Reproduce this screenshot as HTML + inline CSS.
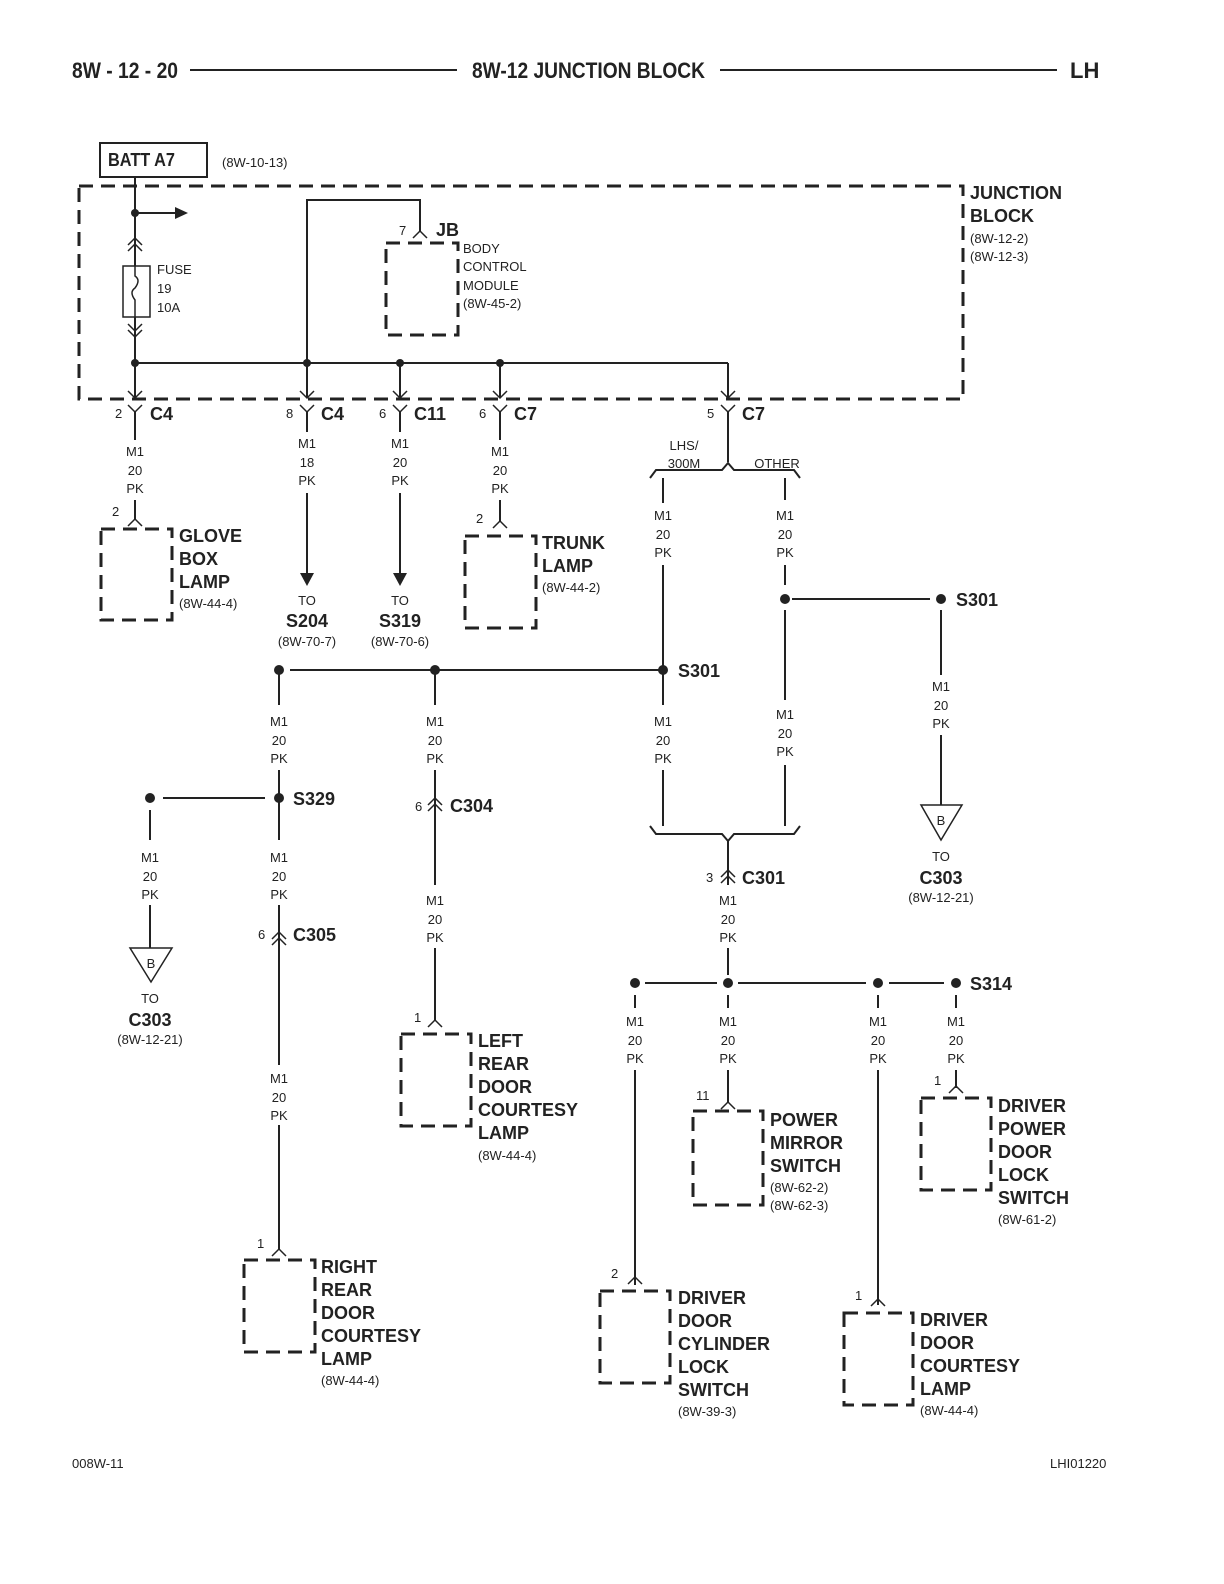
<!DOCTYPE html>
<html><head><meta charset="utf-8"><style>
html,body{margin:0;padding:0;background:#fff;overflow:hidden;width:1224px;height:1584px}
svg{display:block}
text{font-family:"Liberation Sans",sans-serif;fill:#222}
.s{font-size:13px}
.b{font-size:18px;font-weight:bold}
.h{font-size:22px;font-weight:bold}
.w{stroke:#222;stroke-width:2;fill:none}
.d{stroke:#222;stroke-width:3;fill:none;stroke-dasharray:14,8}
.c{stroke:#222;stroke-width:1.5;fill:none}
</style></head><body>
<svg width="1224" height="1584" viewBox="0 0 1224 1584" xmlns="http://www.w3.org/2000/svg">
<text x="72" y="78" class="h" textLength="106" lengthAdjust="spacingAndGlyphs">8W - 12 - 20</text>
<line x1="190" y1="70" x2="457" y2="70" class="w"/>
<text x="472" y="78" class="h" textLength="233" lengthAdjust="spacingAndGlyphs">8W-12 JUNCTION BLOCK</text>
<line x1="720" y1="70" x2="1057" y2="70" class="w"/>
<text x="1070" y="78" class="h">LH</text>

<rect x="100" y="143" width="107" height="34" fill="none" stroke="#222" stroke-width="2"/>
<text x="108" y="166" class="b" textLength="67" lengthAdjust="spacingAndGlyphs">BATT A7</text>
<text x="222" y="167" class="s">(8W-10-13)</text>

<rect x="79" y="186" width="884" height="213" class="d"/>
<text x="970" y="199" class="b">JUNCTION</text><text x="970" y="222" class="b">BLOCK</text>
<text x="970" y="243" class="s">(8W-12-2)</text><text x="970" y="261" class="s">(8W-12-3)</text>

<line x1="135" y1="177" x2="135" y2="398" class="w"/>
<circle cx="135" cy="213" r="4" fill="#222"/>
<line x1="135" y1="213" x2="175" y2="213" class="w"/>
<polygon points="175,207 188,213 175,219" fill="#222"/>
<polyline points="128,245 135,238 142,245" class="c"/><polyline points="128,251 135,244 142,251" class="c"/>
<rect x="123" y="266" width="27" height="51" fill="#fff" stroke="#222" stroke-width="1.5"/>
<path d="M135 266 v10 q6 4 0 12 q-6 4 0 12 v17" class="c"/>
<polyline points="128,324 135,331 142,324" class="c"/><polyline points="128,330 135,337 142,330" class="c"/>
<text x="157" y="274" class="s">FUSE</text><text x="157" y="293" class="s">19</text><text x="157" y="312" class="s">10A</text>
<line x1="135" y1="363" x2="728" y2="363" class="w"/>
<circle cx="135" cy="363" r="4" fill="#222"/><circle cx="307" cy="363" r="4" fill="#222"/><circle cx="400" cy="363" r="4" fill="#222"/><circle cx="500" cy="363" r="4" fill="#222"/>
<polyline points="307,363 307,200 420,200 420,232" class="w"/>
<polyline points="413,238 420,231 427,238" class="c"/>
<rect x="386" y="243" width="72" height="92" class="d"/>
<text x="399" y="235" class="s">7</text><text x="436" y="236" class="b">JB</text>
<text x="463" y="253" class="s">BODY</text><text x="463" y="271" class="s">CONTROL</text><text x="463" y="290" class="s">MODULE</text><text x="463" y="308" class="s">(8W-45-2)</text>
<line x1="307" y1="363" x2="307" y2="398" class="w"/><line x1="400" y1="363" x2="400" y2="398" class="w"/><line x1="500" y1="363" x2="500" y2="398" class="w"/><line x1="728" y1="363" x2="728" y2="398" class="w"/>
<g class="c">
<polyline points="128,391 135,398 142,391"/><polyline points="300,391 307,398 314,391"/><polyline points="393,391 400,398 407,391"/><polyline points="493,391 500,398 507,391"/><polyline points="721,391 728,398 735,391"/>
<polyline points="128,405 135,412 142,405"/><polyline points="300,405 307,412 314,405"/><polyline points="393,405 400,412 407,405"/><polyline points="493,405 500,412 507,405"/><polyline points="721,405 728,412 735,405"/>
</g>
<text x="115" y="418" class="s">2</text><text x="150" y="420" class="b">C4</text>
<text x="286" y="418" class="s">8</text><text x="321" y="420" class="b">C4</text>
<text x="379" y="418" class="s">6</text><text x="414" y="420" class="b">C11</text>
<text x="479" y="418" class="s">6</text><text x="514" y="420" class="b">C7</text>
<text x="707" y="418" class="s">5</text><text x="742" y="420" class="b">C7</text>

<g class="s" text-anchor="middle">
<text x="135" y="456">M1</text><text x="135" y="475">20</text><text x="135" y="493">PK</text>
<text x="307" y="448">M1</text><text x="307" y="467">18</text><text x="307" y="485">PK</text>
<text x="400" y="448">M1</text><text x="400" y="467">20</text><text x="400" y="485">PK</text>
<text x="500" y="456">M1</text><text x="500" y="475">20</text><text x="500" y="493">PK</text>
<text x="663" y="520">M1</text><text x="663" y="539">20</text><text x="663" y="557">PK</text>
<text x="785" y="520">M1</text><text x="785" y="539">20</text><text x="785" y="557">PK</text>
<text x="941" y="691">M1</text><text x="941" y="710">20</text><text x="941" y="728">PK</text>
<text x="279" y="726">M1</text><text x="279" y="745">20</text><text x="279" y="763">PK</text>
<text x="435" y="726">M1</text><text x="435" y="745">20</text><text x="435" y="763">PK</text>
<text x="663" y="726">M1</text><text x="663" y="745">20</text><text x="663" y="763">PK</text>
<text x="785" y="719">M1</text><text x="785" y="738">20</text><text x="785" y="756">PK</text>
<text x="150" y="862">M1</text><text x="150" y="881">20</text><text x="150" y="899">PK</text>
<text x="279" y="862">M1</text><text x="279" y="881">20</text><text x="279" y="899">PK</text>
<text x="435" y="905">M1</text><text x="435" y="924">20</text><text x="435" y="942">PK</text>
<text x="728" y="905">M1</text><text x="728" y="924">20</text><text x="728" y="942">PK</text>
<text x="279" y="1083">M1</text><text x="279" y="1102">20</text><text x="279" y="1120">PK</text>
<text x="635" y="1026">M1</text><text x="635" y="1045">20</text><text x="635" y="1063">PK</text>
<text x="728" y="1026">M1</text><text x="728" y="1045">20</text><text x="728" y="1063">PK</text>
<text x="878" y="1026">M1</text><text x="878" y="1045">20</text><text x="878" y="1063">PK</text>
<text x="956" y="1026">M1</text><text x="956" y="1045">20</text><text x="956" y="1063">PK</text>
<text x="307" y="605">TO</text><text x="400" y="605">TO</text>
<text x="307" y="646">(8W-70-7)</text><text x="400" y="646">(8W-70-6)</text>
<text x="941" y="861">TO</text><text x="941" y="902">(8W-12-21)</text>
<text x="150" y="1003">TO</text><text x="150" y="1044">(8W-12-21)</text>
</g>
<g class="b" text-anchor="middle">
<text x="307" y="627">S204</text><text x="400" y="627">S319</text><text x="941" y="884">C303</text><text x="150" y="1026">C303</text>
</g>

<g class="w">
<line x1="135" y1="412" x2="135" y2="440"/><line x1="135" y1="500" x2="135" y2="520"/>
<line x1="307" y1="412" x2="307" y2="432"/><line x1="307" y1="493" x2="307" y2="575"/>
<line x1="400" y1="412" x2="400" y2="432"/><line x1="400" y1="493" x2="400" y2="575"/>
<line x1="500" y1="412" x2="500" y2="440"/><line x1="500" y1="500" x2="500" y2="522"/>
<line x1="728" y1="412" x2="728" y2="462"/>
<polyline points="650,478 656,470 722,470 728,463 734,470 794,470 800,478"/>
<line x1="663" y1="478" x2="663" y2="503"/><line x1="663" y1="565" x2="663" y2="705"/><line x1="663" y1="770" x2="663" y2="826"/>
<line x1="785" y1="478" x2="785" y2="500"/><line x1="785" y1="565" x2="785" y2="585"/><line x1="785" y1="610" x2="785" y2="700"/><line x1="785" y1="765" x2="785" y2="826"/>
<polyline points="650,826 656,834 722,834 728,841 734,834 794,834 800,826"/>
<line x1="792" y1="599" x2="930" y2="599"/>
<line x1="941" y1="610" x2="941" y2="675"/><line x1="941" y1="735" x2="941" y2="805"/>
<line x1="290" y1="670" x2="663" y2="670"/>
<line x1="279" y1="670" x2="279" y2="705"/><line x1="279" y1="770" x2="279" y2="840"/>
<line x1="435" y1="670" x2="435" y2="705"/><line x1="435" y1="770" x2="435" y2="885"/>
<line x1="163" y1="798" x2="265" y2="798"/>
<line x1="150" y1="810" x2="150" y2="840"/><line x1="150" y1="905" x2="150" y2="948"/>
<line x1="279" y1="905" x2="279" y2="1065"/><line x1="279" y1="1125" x2="279" y2="1250"/>
<line x1="435" y1="948" x2="435" y2="1020"/>
<line x1="728" y1="841" x2="728" y2="885"/><line x1="728" y1="948" x2="728" y2="975"/>
<line x1="645" y1="983" x2="717" y2="983"/><line x1="738" y1="983" x2="866" y2="983"/><line x1="889" y1="983" x2="944" y2="983"/>
<line x1="635" y1="995" x2="635" y2="1008"/><line x1="635" y1="1070" x2="635" y2="1285"/>
<line x1="728" y1="995" x2="728" y2="1008"/><line x1="728" y1="1070" x2="728" y2="1103"/>
<line x1="878" y1="995" x2="878" y2="1008"/><line x1="878" y1="1070" x2="878" y2="1305"/>
<line x1="956" y1="995" x2="956" y2="1008"/><line x1="956" y1="1070" x2="956" y2="1088"/>
</g>
<polygon points="300,573 314,573 307,586" fill="#222"/>
<polygon points="393,573 407,573 400,586" fill="#222"/>
<g fill="#222">
<circle cx="785" cy="599" r="5"/><circle cx="941" cy="599" r="5"/>
<circle cx="279" cy="670" r="5"/><circle cx="435" cy="670" r="5"/><circle cx="663" cy="670" r="5"/>
<circle cx="279" cy="798" r="5"/><circle cx="150" cy="798" r="5"/>
<circle cx="635" cy="983" r="5"/><circle cx="728" cy="983" r="5"/><circle cx="878" cy="983" r="5"/><circle cx="956" cy="983" r="5"/>
</g>
<text x="956" y="606" class="b">S301</text><text x="678" y="677" class="b">S301</text><text x="293" y="805" class="b">S329</text><text x="970" y="990" class="b">S314</text>
<text x="684" y="450" class="s" text-anchor="middle">LHS/</text><text x="684" y="468" class="s" text-anchor="middle">300M</text><text x="777" y="468" class="s" text-anchor="middle">OTHER</text>

<polygon points="921,805 962,805 941,840" fill="#fff" stroke="#222" stroke-width="1.5"/><text x="941" y="825" class="s" text-anchor="middle">B</text>
<polygon points="130,948 172,948 151,982" fill="#fff" stroke="#222" stroke-width="1.5"/><text x="151" y="968" class="s" text-anchor="middle">B</text>

<g class="c">
<polyline points="428,805 435,798 442,805"/><polyline points="428,811 435,804 442,811"/>
<polyline points="272,939 279,932 286,939"/><polyline points="272,945 279,938 286,945"/>
<polyline points="721,877 728,870 735,877"/><polyline points="721,883 728,876 735,883"/>
</g>
<text x="415" y="811" class="s">6</text><text x="450" y="812" class="b">C304</text>
<text x="258" y="939" class="s">6</text><text x="293" y="941" class="b">C305</text>
<text x="706" y="882" class="s">3</text><text x="742" y="884" class="b">C301</text>

<g class="c">
<polyline points="128,526 135,519 142,526"/><polyline points="493,528 500,521 507,528"/>
<polyline points="272,1256 279,1249 286,1256"/><polyline points="428,1027 435,1020 442,1027"/>
<polyline points="721,1109 728,1102 735,1109"/><polyline points="949,1093 956,1086 963,1093"/>
<polyline points="628,1284 635,1277 642,1284"/><polyline points="871,1306 878,1299 885,1306"/>
</g>
<rect x="101" y="529" width="71" height="91" class="d"/>
<rect x="465" y="536" width="71" height="92" class="d"/>
<rect x="244" y="1260" width="71" height="92" class="d"/>
<rect x="401" y="1034" width="70" height="92" class="d"/>
<rect x="693" y="1111" width="70" height="94" class="d"/>
<rect x="921" y="1098" width="70" height="92" class="d"/>
<rect x="600" y="1291" width="70" height="92" class="d"/>
<rect x="844" y="1313" width="69" height="92" class="d"/>

<text x="112" y="516" class="s">2</text>
<text x="179" y="542" class="b">GLOVE</text><text x="179" y="565" class="b">BOX</text><text x="179" y="588" class="b">LAMP</text><text x="179" y="608" class="s">(8W-44-4)</text>
<text x="476" y="523" class="s">2</text>
<text x="542" y="549" class="b">TRUNK</text><text x="542" y="572" class="b">LAMP</text><text x="542" y="592" class="s">(8W-44-2)</text>
<text x="257" y="1248" class="s">1</text>
<text x="321" y="1273" class="b">RIGHT</text><text x="321" y="1296" class="b">REAR</text><text x="321" y="1319" class="b">DOOR</text><text x="321" y="1342" class="b">COURTESY</text><text x="321" y="1365" class="b">LAMP</text><text x="321" y="1385" class="s">(8W-44-4)</text>
<text x="414" y="1022" class="s">1</text>
<text x="478" y="1047" class="b">LEFT</text><text x="478" y="1070" class="b">REAR</text><text x="478" y="1093" class="b">DOOR</text><text x="478" y="1116" class="b">COURTESY</text><text x="478" y="1139" class="b">LAMP</text><text x="478" y="1160" class="s">(8W-44-4)</text>
<text x="696" y="1100" class="s">11</text>
<text x="770" y="1126" class="b">POWER</text><text x="770" y="1149" class="b">MIRROR</text><text x="770" y="1172" class="b">SWITCH</text><text x="770" y="1192" class="s">(8W-62-2)</text><text x="770" y="1210" class="s">(8W-62-3)</text>
<text x="934" y="1085" class="s">1</text>
<text x="998" y="1112" class="b">DRIVER</text><text x="998" y="1135" class="b">POWER</text><text x="998" y="1158" class="b">DOOR</text><text x="998" y="1181" class="b">LOCK</text><text x="998" y="1204" class="b">SWITCH</text><text x="998" y="1224" class="s">(8W-61-2)</text>
<text x="611" y="1278" class="s">2</text>
<text x="678" y="1304" class="b">DRIVER</text><text x="678" y="1327" class="b">DOOR</text><text x="678" y="1350" class="b">CYLINDER</text><text x="678" y="1373" class="b">LOCK</text><text x="678" y="1396" class="b">SWITCH</text><text x="678" y="1416" class="s">(8W-39-3)</text>
<text x="855" y="1300" class="s">1</text>
<text x="920" y="1326" class="b">DRIVER</text><text x="920" y="1349" class="b">DOOR</text><text x="920" y="1372" class="b">COURTESY</text><text x="920" y="1395" class="b">LAMP</text><text x="920" y="1415" class="s">(8W-44-4)</text>

<text x="72" y="1468" class="s">008W-11</text>
<text x="1050" y="1468" class="s">LHI01220</text>
</svg>
</body></html>
